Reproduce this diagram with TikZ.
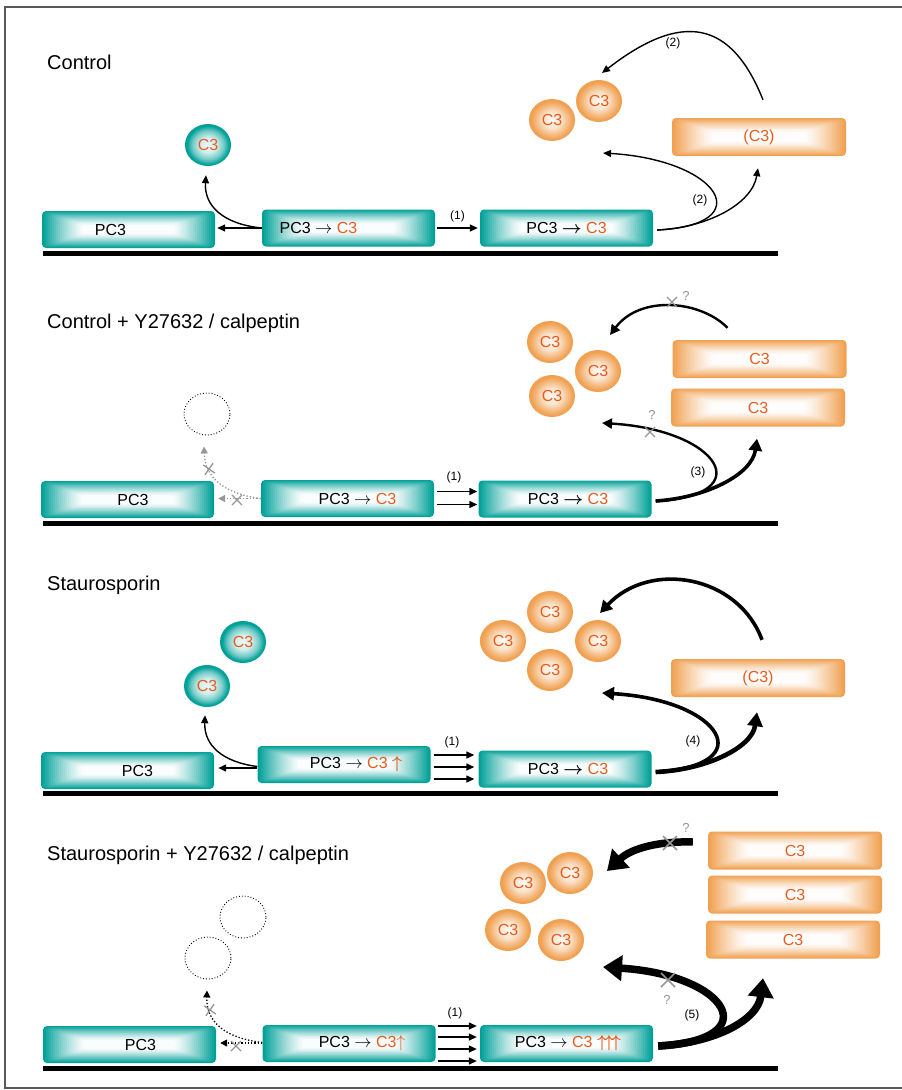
\documentclass[tikz,border=0pt]{standalone}
\usepackage{fontspec}
\setmainfont{Liberation Sans}
\usepackage{bm}
\usetikzlibrary{arrows.meta,shapes.geometric,calc}
\definecolor{tealc}{RGB}{0,160,152}
\definecolor{orc}{RGB}{240,160,80}
\definecolor{txtor}{RGB}{232,92,30}
\definecolor{xg}{RGB}{150,150,150}
\pgfdeclareradialshading{tealball}{\pgfpointorigin}{color(0bp)=(tealc!8!white); color(9bp)=(tealc!18!white); color(17bp)=(tealc!55!white); color(23bp)=(tealc); color(25bp)=(tealc); color(50bp)=(tealc)}
\pgfdeclareradialshading{orball}{\pgfpointorigin}{color(0bp)=(orc!5!white); color(10bp)=(orc!30!white); color(18bp)=(orc!75!white); color(23bp)=(orc); color(25bp)=(orc); color(50bp)=(orc)}
\tikzset{
  boxfont/.style={font=\fontsize{16}{19}\selectfont},
  pillow/.style={fill=#1, path picture={
    \foreach \k in {1,...,20}{
      \pgfmathsetmacro\pp{100*(1-\k/21)^1.3}
      \fill[#1!\pp!white, rounded corners=3pt] ([xshift=\k*2pt, yshift=\k*0.7pt]path picture bounding box.south west) rectangle ([xshift=-\k*2pt, yshift=-\k*0.7pt]path picture bounding box.north east);
    }}},
  tbox/.style={rectangle, rounded corners=4pt, minimum width=173pt, minimum height=37pt, inner sep=0pt, pillow=tealc, boxfont},
  obox/.style={rectangle, rounded corners=4pt, minimum width=174pt, minimum height=38pt, inner sep=0pt, pillow=orc, boxfont, text=txtor},
  tball/.style={ellipse, minimum width=46pt, minimum height=42pt, inner sep=0pt, shade, shading=tealball, boxfont, text=txtor},
  oball/.style={ellipse, minimum width=46pt, minimum height=42pt, inner sep=0pt, shade, shading=orball, boxfont, text=txtor},
  dball/.style={ellipse, minimum width=46pt, minimum height=42pt, inner sep=0pt, draw, dotted, line width=0.9pt},
  memb/.style={line width=5pt},
  ttl/.style={anchor=west, font=\fontsize{20}{24}\selectfont, inner sep=0pt},
  lbl/.style={font=\fontsize{12}{14}\selectfont, inner sep=0pt},
  qm/.style={font=\fontsize{13}{15}\selectfont, text=xg, inner sep=0pt},
  ar/.style={-{Triangle[length=8pt,width=7pt]}, line width=1.4pt},
  ara/.style={-{Triangle[length=10pt,width=10pt]}, line width=2.4pt},
  arb/.style={-{Triangle[length=12pt,width=13pt]}, line width=3.6pt},
  arc/.style={-{Triangle[length=14pt,width=15pt]}, line width=4.6pt},
  ard/.style={-{Triangle[length=19pt,width=25pt]}, line width=7.5pt},
  dg/.style={-{Triangle[length=7pt,width=7pt]}, line width=1.3pt, dotted, xg},
  db/.style={-{Triangle[length=7pt,width=7pt]}, line width=1.3pt, dotted},
  xm/.style={draw=xg, line width=1.3pt},
  xcross/.pic={\draw[xm] (-5,-5) -- (5,5) (-5,5) -- (5,-5);},
  xbig/.pic={\draw[xm, line width=1.6pt] (-7,-7) -- (7,7) (-7,7) -- (7,-7);},
}
\begin{document}
\begin{tikzpicture}[x=1pt,y=-1pt]
\useasboundingbox (0,0) rectangle (902,1090);
\fill[white] (0,0) rectangle (902,1090);
\draw[black!65, line width=1.2pt] (905,7) -- (5,7) -- (5,1088) -- (905,1088);

% ---------------- Panel 1
\node[ttl] (t1) at (47,62) {Control};
\draw[memb] (43,253) -- (778,253);
\node[tbox] (a1) at (128.5,229.5) {PC3\hspace*{36pt}};
\node[tbox] (b1) at (348.5,228) {PC3 $\rightarrow$ \textcolor{txtor}{C3}\hspace*{60pt}};
\node[tbox] (c1) at (566.5,228) {PC3 $\bm{\rightarrow}$ \textcolor{txtor}{C3}};
\node[tball] (s1) at (208,145) {C3};
\node[oball] (o1a) at (552,120) {C3};
\node[oball] (o1b) at (599,101) {C3};
\node[obox] (r1) at (759,137) {(C3)};
\coordinate (s1t) at ($(s1.south)+(-2,9)$);
\coordinate (p1t) at (603,153);
\coordinate (p1u) at (602,73);
\draw[ar] (b1.west) -- ($(b1.west -| a1.east)+(2,0)$);
\draw[ar] (b1.west) .. controls (222,224) and (204,205) .. (s1t);
\draw[ar] ($(b1.east)+(2,0)$) -- ($(c1.west)+(-2,0)$) node[lbl, midway, above=5pt] (n1) {(1)};
\draw[ar] ($(c1.east)+(4,2)$) .. controls (760,225) and (720,160) .. (p1t);
\draw[ar] ($(c1.east)+(4,2)$) .. controls (705,228) and (752,205) .. ($(r1.south)+(-1,12)$);
\draw[ar] ($(r1.north)+(4,-18)$) .. controls (731,20) and (682,11) .. (p1u);
\node[lbl] (l1a) at (673,43) {(2)};
\node[lbl] (l1b) at (700,200) {(2)};

% ---------------- Panel 2
\node[ttl] (t2) at (47,323) {Control + Y27632 / calpeptin};
\draw[memb] (43,523) -- (778,523);
\node[tbox] (a2) at (127.5,499.5) {\hspace*{11pt}PC3};
\node[tbox] (b2) at (347.5,498.5) {\hspace*{20pt}PC3 $\rightarrow$ \textcolor{txtor}{C3}};
\node[tbox] (c2) at (565,499) {\hspace*{6pt}PC3 $\bm{\rightarrow}$ \textcolor{txtor}{C3}};
\node[dball] (d2) at (207,414) {};
\node[oball] (o2a) at (550,342) {C3};
\node[oball] (o2b) at (598,371) {C3};
\node[oball] (o2c) at (552,396) {C3};
\node[obox] (r2a) at (759.5,359) {C3};
\node[obox] (r2b) at (758,407.5) {C3};
\coordinate (p2t) at (602,423);
\coordinate (p2u) at (610,335);
\draw[dg] (b2.west) -- ($(b2.west -| a2.east)+(4,0)$);
\draw[dg] (b2.west) .. controls (225,494) and (205,478) .. ($(d2.south)+(-3,11)$);
\pic at (237,500) {xcross};
\pic[rotate=10] at (209,469) {xcross};
\draw[ar] ($(b2.east)+(3,-7)$) -- ($(c2.west |- b2.east)+(-1,-7)$);
\draw[ar] ($(b2.east)+(3,6)$) -- ($(c2.west |- b2.east)+(-1,6)$);
\node[lbl] (n2) at (454,477) {(1)};
\draw[ara] ($(r2a.north)+(-32,-12)$) .. controls (700,300) and (640,295) .. (p2u);
\pic at (672,302) {xcross};
\node[qm] (q2a) at (686,296) {?};
\draw[ara] ($(c2.east)+(4,2)$) .. controls (760,496) and (720,430) .. (p2t);
\pic at (650,432) {xcross};
\node[qm] (q2b) at (652,415) {?};
\draw[arb] ($(c2.east)+(4,2)$) .. controls (705,498) and (752,475) .. ($(r2b.south)+(-1,12)$);
\node[lbl] (l2) at (698,472) {(3)};

% ---------------- Panel 3
\node[ttl] (t3) at (47,585) {Staurosporin};
\draw[memb] (43,793) -- (778,793);
\node[tbox] (a3) at (127.5,770.5) {\hspace*{20pt}PC3};
\node[tbox] (b3) at (344,764.5) {\hspace*{24pt}PC3 $\rightarrow$ \textcolor{txtor}{C3 $\bm{\uparrow}$}};
\node[tbox] (c3) at (565,769) {\hspace*{6pt}PC3 $\bm{\rightarrow}$ \textcolor{txtor}{C3}};
\node[tball] (s3a) at (243,642) {C3};
\node[tball] (s3b) at (207,686) {C3};
\node[oball] (o3a) at (550,612) {C3};
\node[oball] (o3b) at (503,641) {C3};
\node[oball] (o3c) at (598,641) {C3};
\node[oball] (o3d) at (550,670) {C3};
\node[obox] (r3) at (758,678) {(C3)};
\coordinate (p3t) at (602,693);
\coordinate (p3u) at (600,613);
\draw[ar] ($(b3.west)+(0,3.5)$) -- ($(a3.east)+(4,-2.5)$);
\draw[ar] ($(b3.west)+(0,2)$) .. controls (222,762) and (204,745) .. ($(s3b.south)+(-2,8)$);
\draw[ar] ($(b3.east)+(3,-9.5)$) -- ($(c3.west |- b3.east)+(-4,-9.5)$);
\draw[ar] ($(b3.east)+(3,2.5)$) -- ($(c3.west |- b3.east)+(-4,2.5)$);
\draw[ar] ($(b3.east)+(3,14.5)$) -- ($(c3.west |- b3.east)+(-4,14.5)$);
\node[lbl] (n3) at (452,742) {(1)};
\draw[arb] ($(r3.north)+(4,-19)$) .. controls (738,575) and (650,560) .. (p3u);
\draw[arb] ($(c3.east)+(4,3)$) .. controls (762,766) and (722,700) .. (p3t);
\draw[arc] ($(c3.east)+(4,3)$) .. controls (705,770) and (752,748) .. ($(r3.south)+(-1,15)$);
\node[lbl] (l3) at (693,741) {(4)};

% ---------------- Panel 4
\node[ttl] (t4) at (47,855) {Staurosporin + Y27632 / calpeptin};
\draw[memb] (43,1068) -- (778,1068);
\node[tbox] (a4) at (129.5,1044.5) {\hspace*{22pt}PC3};
\node[tbox] (b4) at (349,1043.5) {\hspace*{26pt}PC3 $\rightarrow$ \textcolor{txtor}{C3$\uparrow$}};
\node[tbox] (c4) at (566.5,1043.5) {\hspace*{3pt}PC3 $\rightarrow$ \textcolor{txtor}{C3 $\bm{\uparrow\!\uparrow\!\uparrow}$}};
\node[dball] (d4a) at (243,917) {};
\node[dball] (d4b) at (208,958) {};
\node[oball] (o4a) at (570,873) {C3};
\node[oball] (o4b) at (523,883) {C3};
\node[oball] (o4c) at (508,930) {C3};
\node[oball] (o4d) at (561,940) {C3};
\node[obox] (r4a) at (795,850.5) {C3};
\node[obox] (r4b) at (795,894.5) {C3};
\node[obox] (r4c) at (793,939.5) {C3};
\coordinate (p4t) at (603,967);
\coordinate (p4u) at (607,871);
\coordinate (p4r) at ($(r4c.south)+(-30,19.5)$);
\draw[db] ($(b4.west)+(0,-0.5)$) -- ($(a4.east)+(4,-1.5)$);
\draw[db] ($(b4.west)+(0,-1)$) .. controls (225,1038) and (206,1022) .. ($(d4b.south)+(-1,11)$);
\pic at (236,1046) {xcross};
\pic[rotate=10] at (210,1010) {xcross};
\draw[ar] ($(b4.east)+(2.5,-17.5)$) -- ($(c4.west |- b4.east)+(-3,-17.5)$);
\draw[ar] ($(b4.east)+(2.5,-6.5)$) -- ($(c4.west |- b4.east)+(-3,-6.5)$);
\draw[ar] ($(b4.east)+(2.5,5.5)$) -- ($(c4.west |- b4.east)+(-3,5.5)$);
\draw[ar] ($(b4.east)+(2.5,17.5)$) -- ($(c4.west |- b4.east)+(-3,17.5)$);
\node[lbl] (n4) at (455,1013) {(1)};
\draw[ard] ($(r4a.west)+(-15,-8.5)$) .. controls (660,841) and (632,848) .. (p4u);
\pic at (670,843) {xbig};
\node[qm] (q4a) at (686,828) {?};
\draw[ard] ($(c4.east)+(5,2.5)$) .. controls (768,1040) and (728,975) .. (p4t);
\pic at (668,980) {xbig};
\node[qm] (q4b) at (667,1000) {?};
\draw[ard] ($(c4.east)+(5,2.5)$) .. controls (715,1043) and (758,1020) .. (p4r);
\node[lbl] (l4) at (692,1015) {(5)};
\end{tikzpicture}
\end{document}
